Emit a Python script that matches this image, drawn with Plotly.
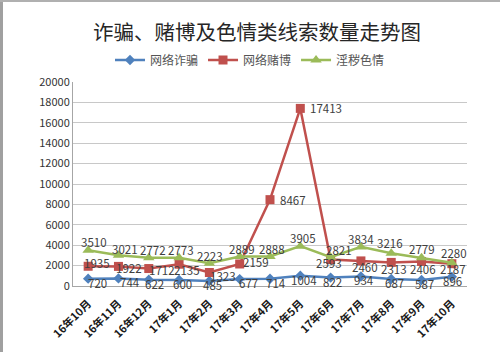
import plotly.graph_objects as go

months = ["16年10月", "16年11月", "16年12月", "17年1月", "17年2月", "17年3月", "17年4月",
          "17年5月", "17年6月", "17年7月", "17年8月", "17年9月", "17年10月"]
fraud = [720, 744, 622, 600, 485, 677, 714, 1004, 822, 934, 687, 587, 896]
gambling = [1935, 1922, 1712, 2135, 1323, 2159, 8467, 17413, 2593, 2460, 2313, 2406, 2187]
porn = [3510, 3021, 2772, 2773, 2223, 2889, 2888, 3905, 2821, 3834, 3216, 2779, 2280]
y_ticks = list(range(0, 20001, 2000))

# data-label offsets (pixels), style only
fraud_dx = [9, 12, 6, 3, 3, 9, 6, 4, 2, 3, 3, 3, 1]
fraud_dy = [-4, -4, -4, -4, -4, -4, -4, -4, -4, -4, -4, -4, -4]
gamb_dx = [9, 11, 13, 8, 14, 16, 23, 26, -2, 4, 3, 1, 1]
gamb_dy = [3, -2, -1, -6, -3, 2, 0, 0, -3, -6, -7, -8, -5]
porn_dx = [6, 7, 4, 2, 1, 2, 2, 3, 8, 0, -1, 0, 2]
porn_dy = [8, 6, 8, 8, 7, 8, 8, 8, 7, 8, 10, 9, 10]

FONT = "Noto Sans CJK SC"
lab_font = dict(family=FONT, size=11.5, color="#404040")

series = [
    ("网络诈骗", fraud, "#4F81BD", "diamond", 8, fraud_dx, fraud_dy),
    ("网络赌博", gambling, "#C0504D", "square", 9, gamb_dx, gamb_dy),
    ("淫秽色情", porn, "#9BBB59", "triangle-up", 10, porn_dx, porn_dy),
]

fig = go.Figure()
annotations = []
for name, vals, col, sym, ms, dxs, dys in series:
    fig.add_trace(go.Scatter(
        x=months, y=vals, name=name, mode="lines+markers",
        line=dict(color=col, width=2.5),
        marker=dict(symbol=sym, size=ms, color=col),
        cliponaxis=False,
    ))
    for m, v, dx, dy in zip(months, vals, dxs, dys):
        annotations.append(dict(
            x=m, y=v, xref="x", yref="y", text=str(v), showarrow=False,
            xshift=dx, yshift=dy, font=lab_font,
            xanchor="center", yanchor="middle",
        ))

fig.update_layout(
    width=500, height=352,
    margin=dict(l=73, r=33, t=82, b=66, autoexpand=False),
    paper_bgcolor="white", plot_bgcolor="white",
    font=dict(family=FONT, color="#333333"),
    title=dict(text="诈骗、赌博及色情类线索数量走势图", x=0.514, xanchor="center",
               y=1 - 33 / 352, yanchor="middle",
               font=dict(family=FONT, size=20.5, color="#262626")),
    legend=dict(orientation="h", xref="container", yref="container",
                x=0.5, xanchor="center", y=1 - 60 / 352, yanchor="middle",
                font=dict(family=FONT, size=12, color="#555555"),
                itemwidth=30, bgcolor="rgba(0,0,0,0)"),
    showlegend=True,
    annotations=annotations,
    shapes=[
        dict(type="rect", xref="paper", yref="paper",
             x0=-73 / 394, x1=-70 / 394, y0=-66 / 204, y1=286 / 204,
             fillcolor="#A0A0A0", line=dict(width=0), layer="above"),
        dict(type="rect", xref="paper", yref="paper",
             x0=-73 / 394, x1=427 / 394, y0=284 / 204, y1=286 / 204,
             fillcolor="#B0B0B0", line=dict(width=0), layer="above"),
    ],
)
fig.update_xaxes(
    type="category", range=[-0.5, 12.5], tickangle=-45, automargin=False,
    showline=True, linecolor="#A6A6A6", linewidth=1,
    showgrid=False, ticks="", ticklabelstandoff=6,
    tickfont=dict(family=FONT, size=11, color="#1A1A1A", weight="bold"),
)
fig.update_yaxes(
    range=[0, 20000], tickvals=y_ticks, ticktext=[str(v) for v in y_ticks], automargin=False,
    showline=True, linecolor="#A6A6A6", linewidth=1,
    showgrid=True, gridcolor="#C8C8C8", gridwidth=1, zeroline=False,
    ticks="", tickfont=dict(family=FONT, size=11, color="#333333"),
)

fig.write_html("out.html")
